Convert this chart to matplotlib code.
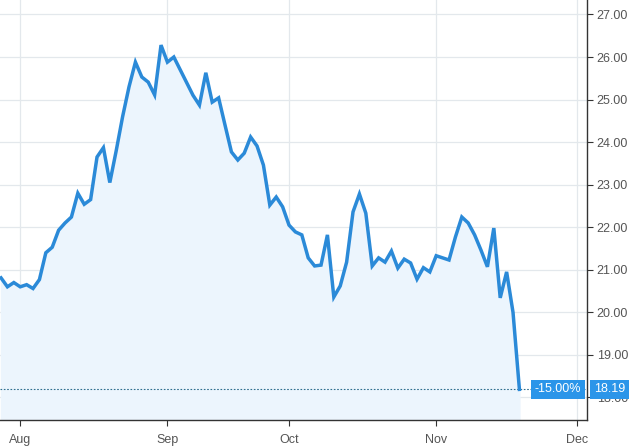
import matplotlib
matplotlib.use('Agg')
import matplotlib.pyplot as plt
import pandas as pd

# daily closes, 2018-07-27 .. 2018-11-20 (trading days)
closes = [
    20.81, 20.60, 20.70, 20.60, 20.65, 20.56, 20.77, 21.40, 21.53, 21.93,
    22.10, 22.24, 22.80, 22.54, 22.65, 23.65, 23.87, 23.05, 23.80, 24.60,
    25.30, 25.88, 25.53, 25.41, 25.11, 26.28, 25.88, 26.00, 25.70, 25.40,
    25.10, 24.87, 25.63, 24.94, 25.04, 24.40, 23.77, 23.58, 23.74, 24.12,
    23.91, 23.46, 22.52, 22.71, 22.48, 22.05, 21.89, 21.82, 21.28, 21.09,
    21.11, 21.82, 20.36, 20.62, 21.18, 22.36, 22.78, 22.33, 21.09, 21.28,
    21.18, 21.44, 21.04, 21.25, 21.16, 20.78, 21.05, 20.95, 21.33, 21.28,
    21.23, 21.77, 22.24, 22.10, 21.82, 21.46, 21.07, 21.98, 20.34, 20.95,
    20.00, 18.19,
]
pct_change = -15.00
y_ticks = [18, 19, 20, 21, 22, 23, 24, 25, 26, 27]
month_labels = ['Aug', 'Sep', 'Oct', 'Nov', 'Dec']

# past holidays only; the future part of the axis is plain weekdays
holidays = ['2018-09-03']
days = pd.bdate_range('2018-07-27', '2018-12-31', freq='C', holidays=holidays)
x = list(range(len(closes)))
month_pos = []
for m in [8, 9, 10, 11, 12]:
    month_pos.append(int(next(i for i, d in enumerate(days) if d.month == m)))

line_col = '#2b8ad8'
grid_col = '#e3e8ec'
text_col = '#555555'

plt.rcParams['font.family'] = ['Liberation Sans', 'DejaVu Sans']

fig = plt.figure(figsize=(6.34, 4.46), dpi=100)
ax = fig.add_axes([0.0, 26 / 446, 587 / 634, 420 / 446])

ax.fill_between(x, closes, 17.0, color='#ecf5fd', zorder=1)
ax.plot(x, closes, color=line_col, lw=2.5, solid_joinstyle='miter', zorder=3)
ax.axhline(closes[-1], color='#2f6f8f', lw=0.8, ls=(0, (1.5, 1.5)), zorder=2)

ax.set_xlim(-0.16, 91.56)
ax.set_ylim(17.47, 27.34)

ax.yaxis.tick_right()
ax.set_yticks(y_ticks)
ax.set_yticklabels(['%.2f' % v for v in y_ticks])
ax.set_xticks(month_pos)
ax.set_xticklabels(month_labels)
ax.tick_params(axis='both', colors='#333333', labelcolor=text_col,
               labelsize=9, length=4, width=0.8)
ax.tick_params(axis='x', pad=6)
ax.tick_params(axis='y', pad=3)

ax.grid(True, color=grid_col, lw=0.9)
ax.set_axisbelow(True)
for s in ['left', 'top']:
    ax.spines[s].set_visible(False)
for s in ['right', 'bottom']:
    ax.spines[s].set_color('#333333')
    ax.spines[s].set_linewidth(1.0)

# last value labels
ax.annotate('%.2f%%' % pct_change, xy=(0.99, closes[-1]),
            xycoords=('axes fraction', 'data'), ha='right', va='center',
            color='white', fontsize=9, zorder=5,
            bbox=dict(boxstyle='square,pad=0.3', fc='#2b95e9', ec='none'))
ax.annotate('%.2f' % closes[-1], xy=(1.012, closes[-1]),
            xycoords=('axes fraction', 'data'), ha='left', va='center',
            color='white', fontsize=9, zorder=5, annotation_clip=False,
            bbox=dict(boxstyle='square,pad=0.3', fc='#2b95e9', ec='none'))

fig.savefig('out.png', dpi=100)
